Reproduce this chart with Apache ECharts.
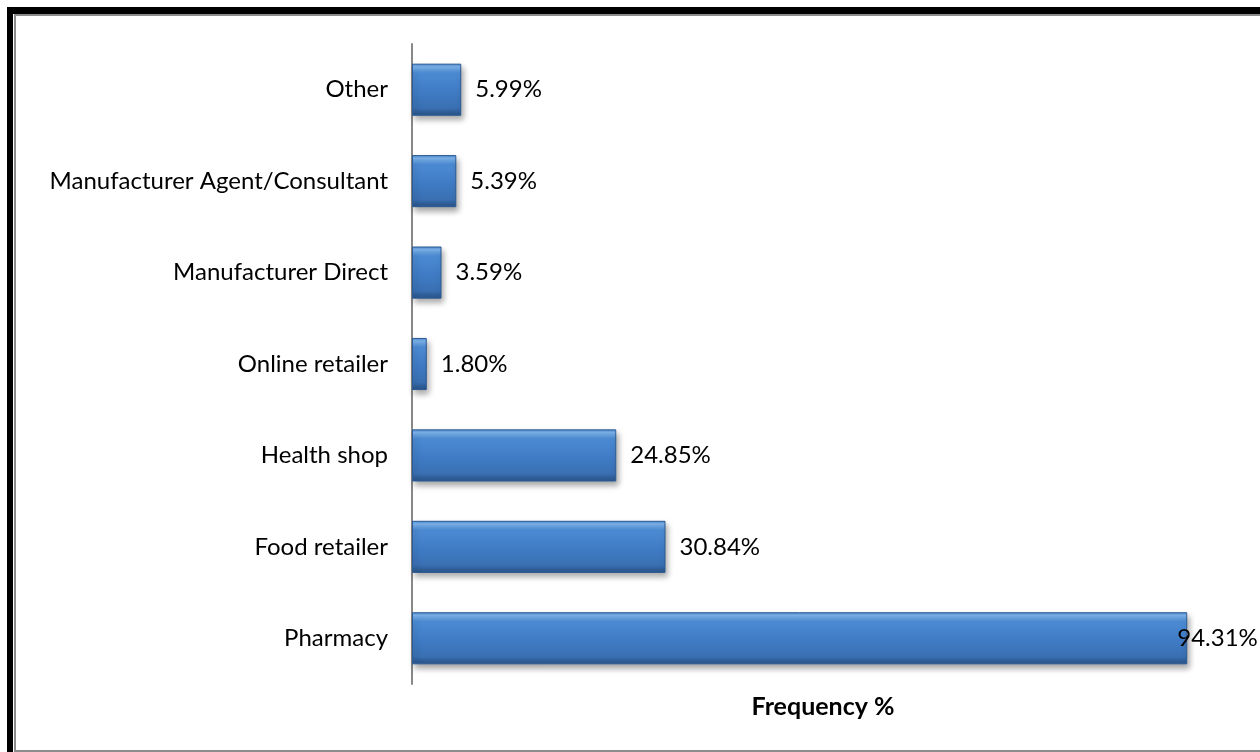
<!DOCTYPE html>
<html>
<head>
<meta charset="utf-8">
<script src="https://cdn.jsdelivr.net/npm/echarts@6/dist/echarts.min.js"></script>
<style>
  html, body { margin: 0; padding: 0; background: #fff; }
  #chart { width: 1260px; height: 752px; }
</style>
</head>
<body>
<div id="chart"></div>
<script>
// categories listed bottom -> top (category axis on y starts from bottom)
const categories = [
  'Pharmacy',
  'Food retailer',
  'Health shop',
  'Online retailer',
  'Manufacturer Direct',
  'Manufacturer Agent/Consultant',
  'Other'
];
const frequency = [94.31, 30.84, 24.85, 1.80, 3.59, 5.39, 5.99];

const chart = echarts.init(document.getElementById('chart'));

const barGradient = new echarts.graphic.LinearGradient(0, 0, 0, 1, [
  { offset: 0, color: '#4a86cf' },
  { offset: 0.06, color: '#7db5ee' },
  { offset: 0.18, color: '#4c8bd4' },
  { offset: 0.55, color: '#3f7bc4' },
  { offset: 0.85, color: '#3a70b3' },
  { offset: 0.93, color: '#2f5e98' },
  { offset: 1, color: '#2b558a' }
]);

const option = {
  animation: false,
  textStyle: { fontFamily: 'Lato, "Open Sans", sans-serif' },
  graphic: [
    { type: 'rect', shape: { x: 7, y: 7, width: 1253, height: 7 }, style: { fill: '#000' } },
    { type: 'rect', shape: { x: 7, y: 7, width: 6, height: 745 }, style: { fill: '#000' } },
    { type: 'rect', shape: { x: 14, y: 14, width: 1246, height: 2 }, style: { fill: '#8c8c8c' } },
    { type: 'rect', shape: { x: 14, y: 14, width: 2, height: 738 }, style: { fill: '#8c8c8c' } },
    { type: 'rect', shape: { x: 14, y: 750, width: 1246, height: 2 }, style: { fill: '#8c8c8c' } }
  ],
  grid: {
    left: 412,
    top: 44,
    width: 822,
    height: 640,
    containLabel: false
  },
  xAxis: {
    type: 'value',
    min: 0,
    max: 100,
    axisLine: { show: false },
    axisTick: { show: false },
    axisLabel: { show: false },
    splitLine: { show: false },
    name: 'Frequency %',
    nameLocation: 'middle',
    nameGap: 10,
    nameTextStyle: {
      fontSize: 25,
      fontWeight: 'bold',
      color: '#000',
      fontFamily: 'Lato, sans-serif'
    }
  },
  yAxis: {
    type: 'category',
    data: categories,
    axisLine: { show: true, lineStyle: { color: '#888', width: 2 } },
    axisTick: { show: false },
    axisLabel: {
      margin: 24,
      fontSize: 24,
      color: '#000',
      fontFamily: 'Lato, sans-serif'
    }
  },
  series: [
    {
      type: 'bar',
      data: frequency.map((v, i) => i === 0
        ? { value: v, label: { distance: -10 } }
        : v),
      barWidth: '57%',
      itemStyle: {
        color: barGradient,
        borderColor: '#2c5b94',
        borderWidth: 1,
        shadowColor: 'rgba(0,0,0,0.35)',
        shadowBlur: 6,
        shadowOffsetX: 2,
        shadowOffsetY: 4
      },
      label: {
        show: true,
        position: 'right',
        distance: 14,
        fontSize: 24,
        color: '#000',
        fontFamily: 'Lato, sans-serif',
        formatter: p => p.value.toFixed(2) + '%'
      }
    }
  ]
};

chart.setOption(option);
window.addEventListener('resize', () => chart.resize());
</script>
</body>
</html>
